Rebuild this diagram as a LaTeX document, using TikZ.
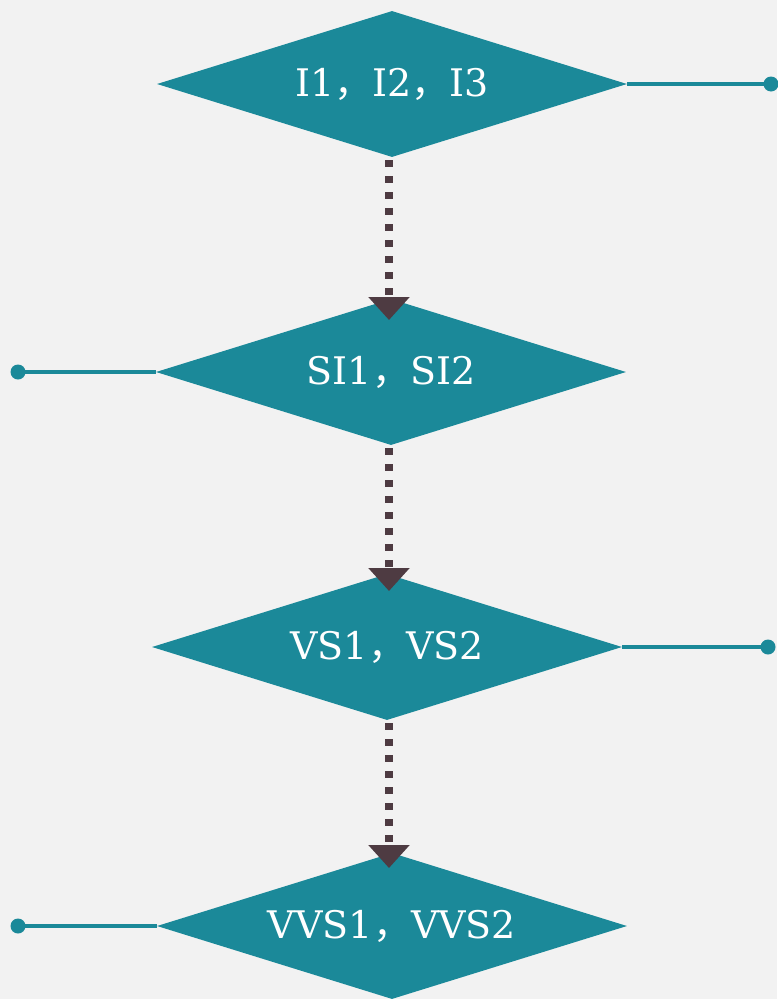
\documentclass[tikz,border=0pt]{standalone}
\usepackage{fontspec}
\setmainfont{DejaVu Serif}
\newfontfamily\cjk{Noto Sans CJK SC}
\usetikzlibrary{shapes.geometric,arrows.meta}
\definecolor{teal1}{HTML}{1B8999}
\definecolor{arr}{HTML}{4E3B42}
\definecolor{bg}{HTML}{F2F2F2}
\newcommand{\cm}{{\cjk ，}}
\tikzset{
  dia/.style={diamond, aspect=3.22, fill=teal1, text=white, inner sep=0pt, minimum width=470pt, minimum height=146pt, font=\fontsize{38}{42}\selectfont},
  flow/.style={draw=arr, line width=8pt, dash pattern=on 7pt off 9pt, -{Triangle[width=40pt,length=23pt,sep=0pt]}},
  side/.style={draw=teal1, line width=4.5pt},
  enddot/.style={fill=teal1}
}
\begin{document}
\begin{tikzpicture}[x=1pt,y=-1pt]
\fill[bg] (0,0) rectangle (777,999);
\useasboundingbox (0,0) rectangle (777,999);
\node[dia] (d1) at (392,84) {I1\cm I2\cm I3};
\node[dia] (d2) at (391,372) {SI1\cm SI2};
\node[dia] (d3) at (387,647) {VS1\cm VS2};
\node[dia] (d4) at (392,926) {VVS1\cm VVS2};
\coordinate (e1) at (771,84);
\coordinate (e2) at (18,372);
\coordinate (e3) at (768,647);
\coordinate (e4) at (18,926);
\draw[side] (d1.east) -- (e1);
\draw[side] (d2.west) -- (e2);
\draw[side] (d3.east) -- (e3);
\draw[side] (d4.west) -- (e4);
\foreach \e in {e1,e2,e3,e4} \fill[enddot] (\e) circle (7.5pt);
\coordinate (a1s) at (389,160);
\coordinate (a1e) at (389,320);
\coordinate (a2s) at (389,448);
\coordinate (a2e) at (389,591);
\coordinate (a3s) at (389,723);
\coordinate (a3e) at (389,868);
\draw[flow] (a1s) -- (a1e);
\draw[flow] (a2s) -- (a2e);
\draw[flow] (a3s) -- (a3e);
\end{tikzpicture}
\end{document}
